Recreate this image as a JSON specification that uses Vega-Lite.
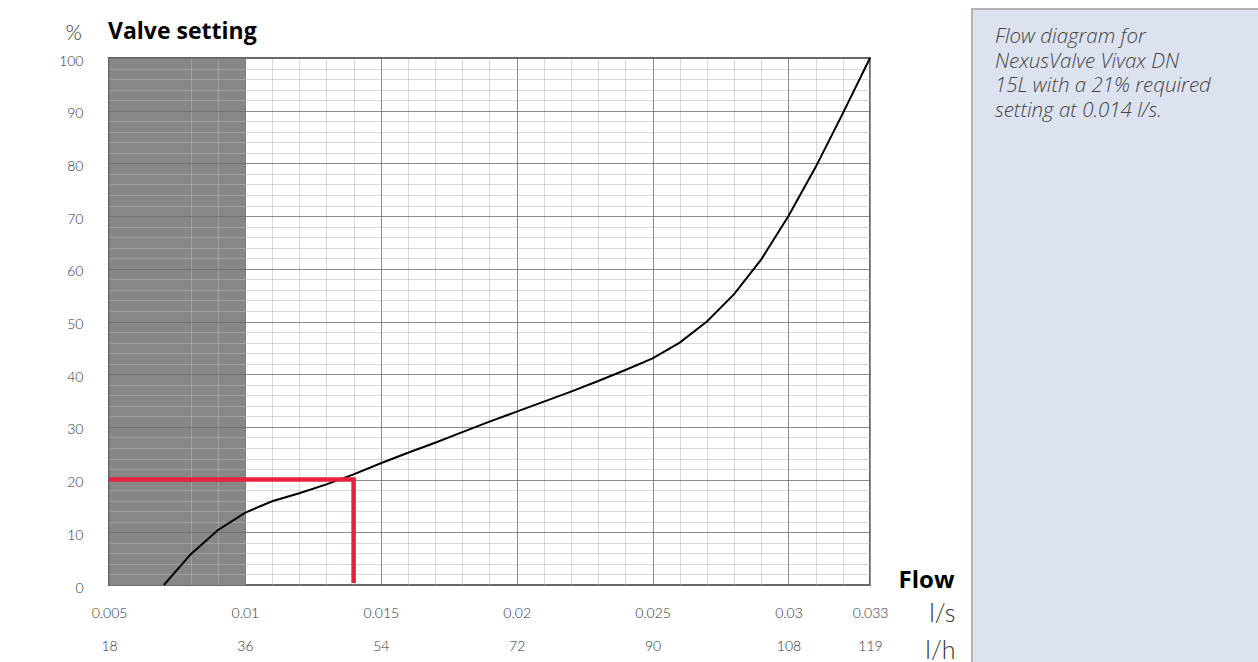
{
  "$schema": "https://vega.github.io/schema/vega-lite/v6.json",
  "autosize": {"type": "none"},
  "padding": {"left": 109, "top": 9, "right": 1149, "bottom": 653},
  "background": "white",
  "spacing": 15,
  "config": {
    "font": "Lato",
    "view": {"stroke": "#666666", "strokeWidth": 2},
    "axis": {
      "ticks": false,
      "domain": false,
      "labelFont": "Lato",
      "labelFontWeight": 300,
      "labelFontSize": 14,
      "labelColor": "#333333",
      "labelFlush": false,
      "labelOverlap": false,
      "titleFont": "Lato"
    }
  },
  "hconcat": [
    {
      "spacing": 10,
      "vconcat": [
        {
          "width": 1,
          "height": 1,
          "view": {"stroke": null, "fill": null},
          "data": {"values": []},
          "mark": "point"
        },
        {
          "width": 761,
          "height": 527,
          "title": {
            "text": "Valve setting",
            "anchor": "start",
            "frame": "group",
            "orient": "top",
            "font": "Open Sans",
            "fontSize": 23,
            "fontWeight": "bold",
            "color": "#000000",
            "baseline": "alphabetic",
            "offset": -40,
            "dx": -1
          },
          "layer": [
            {
              "data": {
                "values": [
                  {"flow": 0.00702, "setting": 0},
                  {"flow": 0.008, "setting": 5.8},
                  {"flow": 0.009, "setting": 10.4},
                  {"flow": 0.010, "setting": 13.7},
                  {"flow": 0.011, "setting": 15.9},
                  {"flow": 0.012, "setting": 17.4},
                  {"flow": 0.013, "setting": 19.1},
                  {"flow": 0.014, "setting": 21.0},
                  {"flow": 0.015, "setting": 23.1},
                  {"flow": 0.016, "setting": 25.1},
                  {"flow": 0.017, "setting": 27.0},
                  {"flow": 0.018, "setting": 29.0},
                  {"flow": 0.019, "setting": 31.0},
                  {"flow": 0.020, "setting": 32.9},
                  {"flow": 0.021, "setting": 34.8},
                  {"flow": 0.022, "setting": 36.7},
                  {"flow": 0.023, "setting": 38.7},
                  {"flow": 0.024, "setting": 40.8},
                  {"flow": 0.025, "setting": 43.0},
                  {"flow": 0.026, "setting": 46.0},
                  {"flow": 0.027, "setting": 50.0},
                  {"flow": 0.028, "setting": 55.2},
                  {"flow": 0.029, "setting": 61.8},
                  {"flow": 0.030, "setting": 70.0},
                  {"flow": 0.031, "setting": 79.3},
                  {"flow": 0.032, "setting": 89.5},
                  {"flow": 0.033, "setting": 100}
                ]
              },
              "mark": {"type": "line", "color": "#000000", "strokeWidth": 2},
              "encoding": {
                "x": {
                  "field": "flow",
                  "type": "quantitative",
                  "scale": {"domain": [0.005, 0.033], "nice": false, "zero": false},
                  "axis": {
                    "orient": "bottom",
                    "values": [0.0075, 0.006, 0.007, 0.008, 0.009, 0.011, 0.012, 0.013, 0.014, 0.016, 0.017, 0.018, 0.019, 0.021, 0.022, 0.023, 0.024, 0.026, 0.027, 0.028, 0.029, 0.031, 0.032, 0.033, 0.005, 0.01, 0.015, 0.02, 0.025, 0.03],
                    "grid": true,
                    "gridColor": {"condition": [{"test": "datum.value === 0.0075", "value": "#878787"}, {"test": "round(datum.value*1000) % 5 === 0", "value": "#6a6a6a"}], "value": "#b6b6b6"},
                    "gridOpacity": {"condition": [{"test": "datum.value === 0.0075", "value": 1}, {"test": "round(datum.value*1000) % 5 === 0", "value": 0.78}], "value": 0.53},
                    "gridWidth": {"condition": {"test": "datum.value === 0.0075", "value": 136}, "value": 1},
                    "labelExpr": "(round(datum.value*10000) % 50 === 0 || datum.value === 0.033) ? format(datum.value, '~g') : ''",
                    "labelBaseline": "alphabetic",
                    "labelPadding": 32,
                    "title": "l/s",
                    "titleX": 846,
                    "titleY": 36,
                    "titleAlign": "right",
                    "titleBaseline": "alphabetic",
                    "titleFontSize": 25,
                    "titleFontWeight": 300,
                    "titleColor": "#333333"
                  }
                },
                "y": {
                  "field": "setting",
                  "type": "quantitative",
                  "scale": {"domain": [0, 100], "nice": false},
                  "axis": {
                    "orient": "left",
                    "values": [2, 4, 6, 8, 12, 14, 16, 18, 22, 24, 26, 28, 32, 34, 36, 38, 42, 44, 46, 48, 52, 54, 56, 58, 62, 64, 66, 68, 72, 74, 76, 78, 82, 84, 86, 88, 92, 94, 96, 98, 0, 10, 20, 30, 40, 50, 60, 70, 80, 90, 100],
                    "grid": true,
                    "gridColor": {"condition": {"test": "datum.value % 10 === 0", "value": "#6a6a6a"}, "value": "#b6b6b6"},
                    "gridOpacity": {"condition": {"test": "datum.value % 10 === 0", "value": 0.78}, "value": 0.53},
                    "labelExpr": "datum.value % 10 === 0 ? datum.label : ''",
                    "labelPadding": 26,
                    "labelBaseline": "middle",
                    "labelOffset": 3,
                    "title": "%",
                    "titleX": -44,
                    "titleY": -19,
                    "titleAngle": 0,
                    "titleAlign": "left",
                    "titleBaseline": "alphabetic",
                    "titleFontSize": 21,
                    "titleFontWeight": 300,
                    "titleColor": "#333333"
                  }
                }
              }
            },
            {
              "data": {
                "values": [
                  {"flow": 0.005, "setting": 20, "step": 1},
                  {"flow": 0.014, "setting": 20, "step": 2},
                  {"flow": 0.014, "setting": 0.4, "step": 3}
                ]
              },
              "mark": {"type": "line", "color": "#e8213c", "strokeWidth": 4.5, "strokeJoin": "miter", "strokeCap": "butt"},
              "encoding": {
                "x": {
                  "field": "flow",
                  "type": "quantitative",
                  "scale": {"domain": [0.005, 0.033], "nice": false, "zero": false},
                  "axis": {
                    "orient": "bottom",
                    "values": [0.005, 0.01, 0.015, 0.02, 0.025, 0.03, 0.033],
                    "grid": false,
                    "labelExpr": "format(round(datum.value*3600), 'd')",
                    "labelBaseline": "alphabetic",
                    "labelPadding": 65,
                    "title": "l/h",
                    "titleX": 846,
                    "titleY": 73,
                    "titleAlign": "right",
                    "titleBaseline": "alphabetic",
                    "titleFontSize": 25,
                    "titleFontWeight": 300,
                    "titleColor": "#333333"
                  }
                },
                "y": {
                  "field": "setting",
                  "type": "quantitative",
                  "scale": {"domain": [0, 100], "nice": false},
                  "axis": {
                    "orient": "left",
                    "grid": false,
                    "labels": false,
                    "title": "Flow",
                    "titleX": 845,
                    "titleY": 529,
                    "titleAngle": 0,
                    "titleAlign": "right",
                    "titleBaseline": "alphabetic",
                    "titleFont": "Open Sans",
                    "titleFontSize": 24,
                    "titleFontWeight": "bold",
                    "titleColor": "#000000"
                  }
                },
                "order": {"field": "step", "type": "quantitative"}
              }
            }
          ],
          "resolve": {"axis": {"x": "independent", "y": "independent"}}
        }
      ]
    },
    {
      "width": 300,
      "height": 680,
      "view": {"fill": "#dce2ef", "stroke": "#b4b4b4", "strokeWidth": 2},
      "title": {
        "text": ["Flow diagram for", "NexusValve Vivax DN", "15L with a 21% required", "setting at 0.014 l/s."],
        "anchor": "start",
        "frame": "group",
        "orient": "top",
        "baseline": "top",
        "offset": -112,
        "dx": 23,
        "font": "Open Sans",
        "fontSize": 20.5,
        "fontStyle": "italic",
        "fontWeight": 300,
        "color": "#444444",
        "lineHeight": 24.5
      },
      "data": {"values": []},
      "mark": "point"
    }
  ]
}
